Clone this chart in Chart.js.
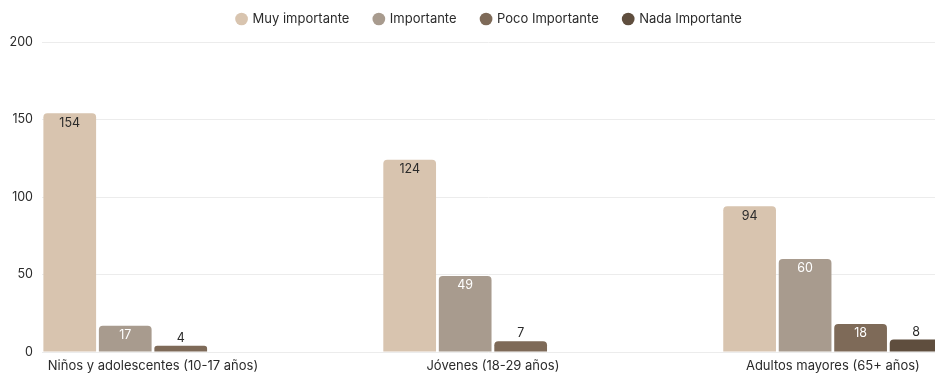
<!DOCTYPE html>
<html><head><meta charset="utf-8">
<script src="https://cdn.jsdelivr.net/npm/chart.js@4"></script>
<style>html,body{margin:0;padding:0;background:#fff}#wrap{width:935px;height:373px;position:relative}</style>
</head><body><div id="wrap"><canvas id="c"></canvas></div>
<script>
const categories = ["Niños y adolescentes (10-17 años)", "Jóvenes (18-29 años)", "Adultos mayores (65+ años)"];
const seriesNames = ["Muy importante", "Importante", "Poco Importante", "Nada Importante"];
const muyImportante = [154, 124, 94];
const importante = [17, 49, 60];
const pocoImportante = [4, 7, 18];
const nadaImportante = [0, 0, 8];
const yTickValues = [0, 50, 100, 150, 200];
const seriesColors = ["#D8C4AF", "#A89B8E", "#7E6A58", "#5F4E3E"];
const labelColors = ["#2b2b2b", "#ffffff", "#ffffff", "#ffffff"];

const FONT = "Inter, 'Open Sans', sans-serif";
const seriesValues = [muyImportante, importante, pocoImportante, nadaImportante];

const LEGEND_HEIGHT = 42;
const LEGEND_SHIFT_Y = 12.5;
const LEGEND_SHIFT_X = 22;

const legendTweak = {
  id: 'legendTweak',
  beforeUpdate(chart) {
    const lg = chart.legend;
    if (!lg || lg._tweaked) return;
    const fit = lg.fit.bind(lg);
    lg.fit = function () { fit(); this.height = LEGEND_HEIGHT; };
    const draw = lg.draw.bind(lg);
    lg.draw = function () {
      const ctx = this.ctx;
      ctx.save();
      ctx.translate(LEGEND_SHIFT_X, -LEGEND_SHIFT_Y);
      draw();
      ctx.restore();
    };
    lg._tweaked = true;
  }
};

const valueLabels = {
  id: 'valueLabels',
  afterDatasetsDraw(chart) {
    const ctx = chart.ctx;
    ctx.save();
    ctx.font = "12.5px " + FONT;
    ctx.textAlign = 'center';
    ctx.textBaseline = 'middle';
    chart.data.datasets.forEach((ds, di) => {
      const meta = chart.getDatasetMeta(di);
      meta.data.forEach((bar, i) => {
        const v = ds.data[i];
        if (!v) return;
        const h = bar.base - bar.y;
        if (h >= 20) {
          ctx.fillStyle = labelColors[di];
          ctx.fillText(String(v), bar.x, bar.y + 9.5);
        } else {
          ctx.fillStyle = "#2b2b2b";
          ctx.fillText(String(v), bar.x, bar.y - 7.5);
        }
      });
    });
    ctx.restore();
  }
};

new Chart(document.getElementById('c'), {
  type: 'bar',
  data: {
    labels: categories,
    datasets: seriesNames.map((n, i) => ({
      label: n,
      data: seriesValues[i],
      backgroundColor: seriesColors[i],
      borderRadius: 4,
      borderSkipped: 'start',
      categoryPercentage: 0.653,
      barPercentage: 0.95
    }))
  },
  options: {
    responsive: true,
    maintainAspectRatio: false,
    animation: false,
    layout: { padding: { left: 0, right: 0, top: 0, bottom: 0 } },
    plugins: {
      legend: {
        position: 'top',
        labels: {
          usePointStyle: true,
          pointStyle: 'circle',
          boxWidth: 9, boxHeight: 9,
          padding: 25,
          color: '#2b2b2b',
          font: { family: FONT, size: 13 }
        }
      },
      tooltip: { enabled: false }
    },
    scales: {
      x: {
        grid: { display: false, drawTicks: false },
        border: { display: false },
        ticks: { color: '#2b2b2b', font: { family: FONT, size: 13 }, padding: 6, maxRotation: 0 },
        afterBuildTicks(scale) {
          scale._startValue = -0.3265;
          scale._valueRange = 2.627;
        },
        afterFit(scale) { scale.height = 21; }
      },
      y: {
        min: 0, max: 200,
        afterBuildTicks(scale) { scale.ticks = yTickValues.map(v => ({ value: v })); },
        grid: { color: '#ececec', drawTicks: false },
        border: { display: false },
        ticks: { color: '#2b2b2b', font: { family: FONT, size: 12.5 }, padding: 9 },
        afterFit(scale) { scale.width = 42; }
      }
    }
  },
  plugins: [legendTweak, valueLabels]
});
</script>
</body></html>
